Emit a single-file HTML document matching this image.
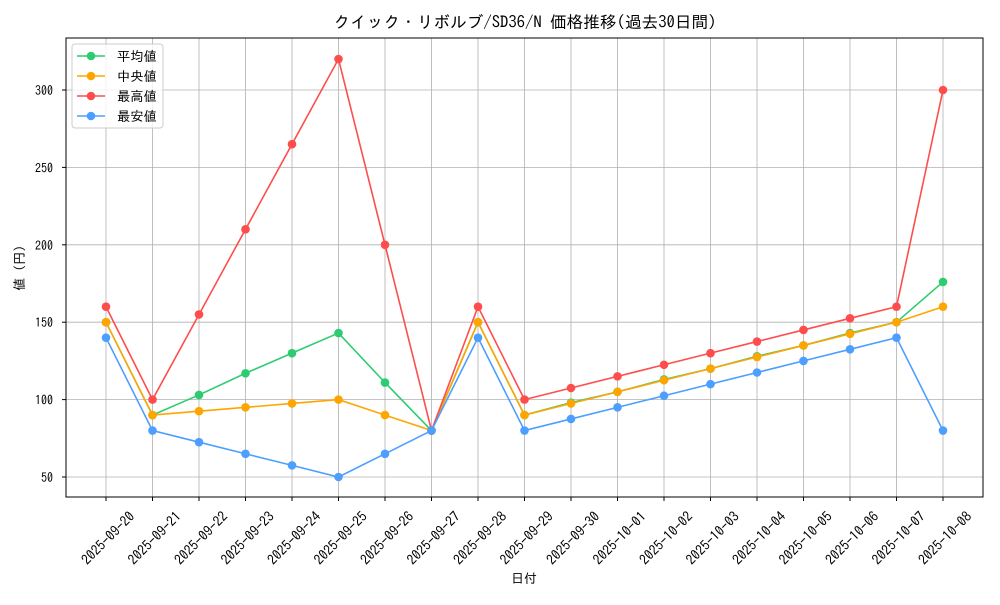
<!DOCTYPE html>
<html><head><meta charset="utf-8"><style>
body{margin:0;background:#fff}
svg text{font-family:"IPAGothic","Liberation Mono","Noto Sans CJK JP",monospace;fill:#000}
</style></head><body>
<svg id="s" width="1000" height="600" xmlns="http://www.w3.org/2000/svg"></svg>
<script>
const s=document.getElementById('s');
const L=66,R=983,T=38,B=497;
const y=v=>477-(v-50)*1.548, x=i=>106+i*46.5;
let h='<rect width="1000" height="600" fill="#fff"/>';
const dates=[];
for(let d=20;d<=30;d++)dates.push('2025-09-'+d);
for(let d=1;d<=8;d++)dates.push('2025-10-0'+d);
for(let i=0;i<19;i++)h+=`<line x1="${x(i)}" y1="${T}" x2="${x(i)}" y2="${B}" stroke="#b0b0b0" stroke-width="0.8"/>`;
for(let v=50;v<=300;v+=50)h+=`<line x1="${L}" y1="${y(v)}" x2="${R}" y2="${y(v)}" stroke="#b0b0b0" stroke-width="0.8"/>`;
const S=[
['平均値','#2ecc71',[150,90,103,117,130,143,111,80,150,90,98,105,113,120,128,135,143,150,176]],
['中央値','#ffa500',[150,90,92.5,95,97.5,100,90,80,150,90,97.5,105,112.5,120,127.5,135,142.5,150,160]],
['最高値','#ff4d4d',[160,100,155,210,265,320,200,80,160,100,107.5,115,122.5,130,137.5,145,152.5,160,300]],
['最安値','#4d9fff',[140,80,72.5,65,57.5,50,65,80,140,80,87.5,95,102.5,110,117.5,125,132.5,140,80]]];
for(const [n,c,d] of S){
 h+=`<polyline fill="none" stroke="${c}" stroke-width="1.6" points="${d.map((v,i)=>x(i)+','+y(v)).join(' ')}"/>`;
 d.forEach((v,i)=>h+=`<circle cx="${x(i)}" cy="${y(v)}" r="4.3" fill="${c}"/>`);
}
h+=`<rect x="${L}" y="${T}" width="${R-L}" height="${B-T}" fill="none" stroke="#000" stroke-width="1"/>`;
for(let v=50;v<=300;v+=50){h+=`<line x1="${L-4}" y1="${y(v)}" x2="${L}" y2="${y(v)}" stroke="#000"/><text x="${L-13}" y="${y(v)+5}" font-size="13" text-anchor="end" textLength="${v>=100?18:12}" lengthAdjust="spacingAndGlyphs">${v}</text>`;}
dates.forEach((d,i)=>{h+=`<line x1="${x(i)}" y1="${B}" x2="${x(i)}" y2="${B+4}" stroke="#000"/><text transform="translate(${x(i)+2},${B+41}) rotate(-45)" font-size="14" text-anchor="middle" dominant-baseline="central" textLength="68" lengthAdjust="spacingAndGlyphs">${d}</text>`;});
h+=`<text x="524" y="583" font-size="13" text-anchor="middle">日付</text>`;
h+=`<text transform="translate(24,268) rotate(-90)" font-size="13" text-anchor="middle">値 (円)</text>`;
h+=`<text x="525" y="28" font-size="16.5" text-anchor="middle" textLength="383" lengthAdjust="spacingAndGlyphs">クイック・リボルブ/SD36/N 価格推移(過去30日間)</text>`;
h+=`<rect x="72" y="44" width="91" height="84" rx="3" fill="#fff" fill-opacity="0.8" stroke="#ccc"/>`;
S.forEach(([n,c],k)=>{const yy=56+k*20;h+=`<line x1="77" y1="${yy}" x2="105" y2="${yy}" stroke="${c}" stroke-width="1.6"/><circle cx="91" cy="${yy}" r="4.3" fill="${c}"/><text x="117" y="${yy+5}" font-size="13.3">${n}</text>`;});
s.innerHTML=h;
</script>
</body></html>
